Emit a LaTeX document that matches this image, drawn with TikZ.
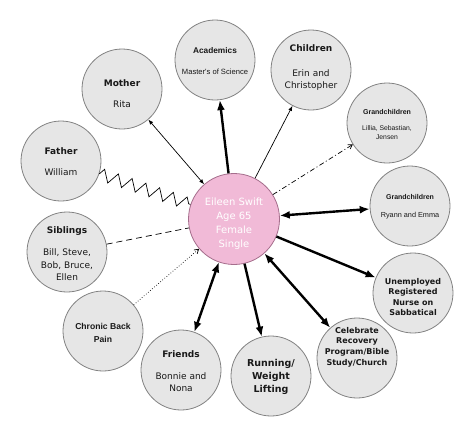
\documentclass[tikz,border=0pt]{standalone}
\usepackage{fontspec}
\setmainfont{DejaVu Sans}
\newfontfamily\arialf{Liberation Sans}
\usetikzlibrary{arrows.meta,decorations.pathmorphing}
\definecolor{pinkfill}{RGB}{241,186,215}
\definecolor{pinkline}{RGB}{165,110,140}
\definecolor{bubfill}{RGB}{230,230,230}
\definecolor{bubline}{RGB}{130,130,130}
\definecolor{txt}{RGB}{25,25,25}
\tikzset{
  bub/.style={circle,draw=bubline,fill=bubfill,line width=0.8pt,minimum size=80pt,inner sep=0pt},
  hub/.style={circle,draw=pinkline,fill=pinkfill,line width=0.8pt,minimum size=91pt,inner sep=0pt},
  tv/.style={font=\fontsize{9}{11}\selectfont\bfseries,text=txt,align=center,inner sep=0pt},
  sv/.style={font=\fontsize{9}{12.5}\selectfont,text=txt,align=center,inner sep=0pt},
  ta/.style={font=\arialf\fontsize{8.3}{10}\selectfont\bfseries,text=txt,align=center,inner sep=0pt},
  sa/.style={font=\arialf\fontsize{7.5}{9}\selectfont,text=txt,align=center,inner sep=0pt},
  thk/.style={line width=2.4pt,black},
  thn/.style={line width=0.7pt,black},
  bigtip/.tip={Latex[length=10pt,width=8pt]},
  smalltip/.tip={Latex[length=5pt,width=4pt]},
  opentip/.tip={Straight Barb[length=4pt,width=5pt]},
}
\begin{document}
\begin{tikzpicture}[x=1pt,y=-1pt]
\useasboundingbox (0,0) rectangle (474,437);
% hub
\node[hub] (ei) at (234,219) {};
\node[font=\fontsize{10}{14}\selectfont,text=white,align=center,inner sep=0pt] (eiT) at (234,224) {Eileen Swift\\Age 65\\Female\\Single};
% bubbles
\node[bub] (ac) at (215,60) {};
\node[bub] (ch) at (311,70) {};
\node[bub] (mo) at (122,89) {};
\node[bub] (fa) at (61,161) {};
\node[bub] (si) at (67,252) {};
\node[bub] (cb) at (103,331) {};
\node[bub] (fr) at (181,370) {};
\node[bub] (ru) at (271,376) {};
\node[bub] (ce) at (357,358) {};
\node[bub] (un) at (413,293) {};
\node[bub] (ga) at (387,123) {};
\node[bub] (gb) at (410,206) {};
% texts
\node[ta] (acT) at (215,51) {Academics};
\node[sa,font=\arialf\fontsize{7.6}{9}\selectfont] (acS) at (215,72) {Master's of Science};
\node[tv] (chT) at (311,48) {Children};
\node[sv] (chS) at (311,80) {Erin and\\Christopher};
\node[tv] (moT) at (122,83) {Mother};
\node[sv] (moS) at (122,104) {Rita};
\node[tv] (faT) at (61,151) {Father};
\node[sv] (faS) at (61,172) {William};
\node[tv] (siT) at (67,231) {Siblings};
\node[sv] (siS) at (67,265) {Bill, Steve,\\Bob, Bruce,\\Ellen};
\node[ta,font=\arialf\fontsize{8.6}{12.5}\selectfont\bfseries] (cbT) at (103,333) {Chronic Back\\Pain};
\node[tv] (frT) at (181,354) {Friends};
\node[sv] (frS) at (181,382) {Bonnie and\\Nona};
\node[tv,font=\fontsize{9.5}{13}\selectfont\bfseries] (ruT) at (271,377) {Running/\\Weight\\Lifting};
\node[tv,font=\fontsize{8}{10.6}\selectfont\bfseries] (ceT) at (357,347) {Celebrate\\Recovery\\Program/Bible\\Study/Church};
\node[tv,font=\fontsize{8}{10.3}\selectfont\bfseries] (unT) at (413,297) {Unemployed\\Registered\\Nurse on\\Sabbatical};
\node[ta,font=\arialf\fontsize{7}{8}\selectfont\bfseries] (gaT) at (387,112) {Grandchildren};
\node[sa,font=\arialf\fontsize{6.8}{9}\selectfont] (gaS) at (387,133) {Lillia, Sebastian,\\Jensen};
\node[ta,font=\arialf\fontsize{7}{8}\selectfont\bfseries] (gbT) at (410,197) {Grandchildren};
\node[sa,font=\arialf\fontsize{7.3}{9}\selectfont] (gbS) at (410,216) {Ryann and Emma};
% connectors
\draw[thn,smalltip-smalltip] (mo) -- (ei);
\draw[thk,-bigtip] (ei) -- (ac);
\draw[thn,-smalltip] (ei) -- (ch);
\draw[thn,-opentip,dash pattern=on 5pt off 2.5pt on 1pt off 2.5pt] (ei) -- (ga);
\draw[thk,bigtip-bigtip] (ei) -- (gb);
\draw[thk,-bigtip] (ei) -- (un);
\draw[thk,bigtip-bigtip] (ei) -- (ce);
\draw[thk,-bigtip] (ei) -- (ru);
\draw[thk,bigtip-bigtip] (ei) -- (fr);
\draw[thn,-opentip,dotted] (cb) -- (ei);
\draw[thn,dash pattern=on 6pt off 4pt] (si) -- (ei);
\draw[thn,decorate,decoration={zigzag,segment length=14.5pt,amplitude=6pt}] (fa) -- (ei);
\end{tikzpicture}
\end{document}
